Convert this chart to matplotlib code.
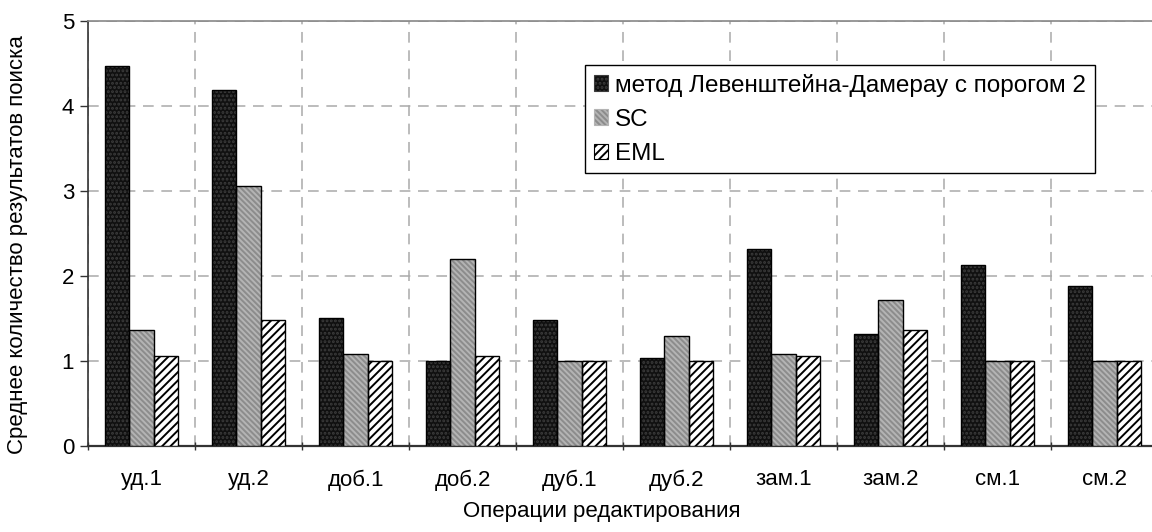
import matplotlib
matplotlib.use("Agg")
import matplotlib.pyplot as plt
from matplotlib.patches import Patch
import numpy as np

categories = ["уд.1", "уд.2", "доб.1", "доб.2", "дуб.1", "дуб.2", "зам.1", "зам.2", "см.1", "см.2"]
series_names = ["метод Левенштейна-Дамерау с порогом 2", "SC", "EML"]
lev_dam = [4.47, 4.19, 1.50, 1.00, 1.475, 1.03, 2.32, 1.31, 2.13, 1.875]
sc = [1.36, 3.05, 1.075, 2.20, 1.00, 1.29, 1.075, 1.71, 1.00, 1.00]
eml = [1.05, 1.475, 1.00, 1.05, 1.00, 1.00, 1.05, 1.36, 1.00, 1.00]
y_ticks = [0, 1, 2, 3, 4, 5]

plt.rcParams['font.family'] = ['Liberation Sans', 'DejaVu Sans']
plt.rcParams['hatch.linewidth'] = 1.4

fig = plt.figure(figsize=(11.52, 5.32), dpi=100)
ax = fig.add_axes([88/1152, 86.3/532, 1070/1152, 425/532])

x = np.arange(len(categories))
w = 0.225
styles = [
    dict(color='#101010', hatch='....', hcolor='#3c3c3c'),
    dict(color='#8c8c8c', hatch='\\\\\\\\\\\\', hcolor='#b4b4b4'),
    dict(color='white', hatch='////', hcolor='black'),
]
data = [lev_dam, sc, eml]
handles = []
for i, (vals, st) in enumerate(zip(data, styles)):
    pos = x + (i - 1) * w
    ax.bar(pos, vals, w, facecolor=st['color'], edgecolor=st['hcolor'],
           hatch=st['hatch'], linewidth=0, zorder=3)
    ax.bar(pos, vals, w, facecolor='none', edgecolor='black', linewidth=1.0, zorder=4)
    handles.append(Patch(facecolor=st['color'], edgecolor=st['hcolor'], hatch=st['hatch'],
                         linewidth=0.8))

ax.set_xlim(-0.5, len(categories) - 0.5)
ax.set_ylim(0, 5)
ax.set_yticks(y_ticks)
ax.set_xticks(x)
ax.set_xticklabels(categories)
ax.set_xticks(np.arange(-0.5, len(categories), 1.0), minor=True)
ax.tick_params(axis='x', which='major', length=0, pad=17, labelsize=16)
ax.tick_params(axis='x', which='minor', length=6, width=1, direction='inout', color='#333333')
ax.tick_params(axis='y', length=6, width=1, direction='out', labelsize=16, pad=4, color='#333333')

ax.grid(axis='y', which='major', linestyle=(0, (7, 5)), color='#aaaaaa', linewidth=1.1, zorder=0)
ax.grid(axis='x', which='minor', linestyle=(0, (7, 5)), color='#aaaaaa', linewidth=1.1, zorder=0)
ax.grid(axis='x', which='major', visible=False)

ax.spines['left'].set_color('#333333')
ax.spines['bottom'].set_color('#333333')
ax.spines['left'].set_linewidth(1.2)
ax.spines['bottom'].set_linewidth(1.6)
ax.spines['top'].set_color('#888888')
ax.spines['top'].set_linewidth(1.2)
ax.spines['right'].set_visible(False)

fig.text(18/1152, (532 - 245)/532, "Среднее количество результатов поиска", fontsize=16,
         rotation=90, ha='center', va='center')
fig.text(602/1152, (532 - 511)/532, "Операции редактирования", fontsize=16,
         ha='center', va='center')

leg = ax.legend(handles, series_names, loc='upper left',
                bbox_to_anchor=((585-88)/1070, (467-86.3)/425), borderaxespad=0,
                fancybox=False, edgecolor='black', framealpha=1, fontsize=17.5,
                handlelength=0.6, handleheight=0.6, handletextpad=0.3,
                labelspacing=0.5, borderpad=0.35)
leg.get_frame().set_linewidth(1.0)
leg.set_zorder(10)

fig.savefig("out.png", dpi=100)
